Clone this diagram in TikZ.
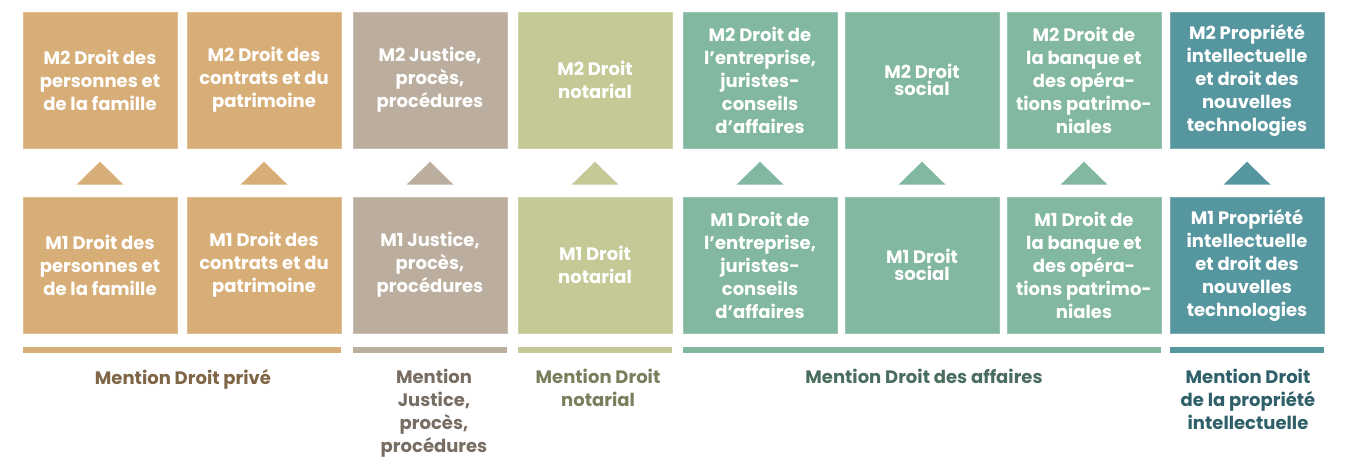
\documentclass[tikz,border=0pt]{standalone}
\usepackage{fontspec}
\setmainfont{Poppins}
\usetikzlibrary{positioning}
\definecolor{tanc}{HTML}{D8AE78}
\definecolor{greyc}{HTML}{BBAE9E}
\definecolor{olivec}{HTML}{C4C996}
\definecolor{greenc}{HTML}{82B7A0}
\definecolor{tealc}{HTML}{56969F}
\definecolor{tantxt}{HTML}{7F6647}
\definecolor{greytxt}{HTML}{776D63}
\definecolor{olivetxt}{HTML}{7B7E5D}
\definecolor{greentxt}{HTML}{4A6D5E}
\definecolor{tealtxt}{HTML}{2F5F68}
\tikzset{
  course/.style={fill=#1, draw=#1!80!white, line width=0.6pt, text=white, align=center,
    minimum width=154pt, minimum height=136pt, inner sep=0pt,
    font=\bfseries\fontsize{18}{23}\selectfont},
  tight/.style={font=\bfseries\fontsize{18}{17.5}\selectfont},
  mention/.style={anchor=north, align=center, inner sep=0pt,
    font=\bfseries\fontsize{18}{23}\selectfont},
}
\begin{document}
\begin{tikzpicture}[x=1pt,y=-1pt]
  \useasboundingbox (0,0) rectangle (1348,457);
  % M2 row
  \node[course=tanc] (topa) at (100,80) {M2 Droit des\\personnes et\\de la famille};
  \node[course=tanc] (topb) at (264,80) {M2 Droit des\\contrats et du\\patrimoine};
  \node[course=greyc] (topc) at (430,80) {M2 Justice,\\procès,\\procédures};
  \node[course=olivec] (topd) at (595,80) {M2 Droit\\notarial};
  \node[course=greenc] (tope) at (760,80) {M2 Droit de\\l’entreprise,\\juristes-\\conseils\\d’affaires};
  \node[course=greenc,tight] (topf) at (922,80) {M2 Droit\\social};
  \node[course=greenc] (topg) at (1084,80) {M2 Droit de\\la banque et\\des opéra-\\tions patrimo-\\niales};
  \node[course=tealc] (toph) at (1247,80) {M2 Propriété\\intellectuelle\\et droit des\\nouvelles\\technologies};
  % M1 row
  \node[course=tanc] (bota) at (100,265) {M1 Droit des\\personnes et\\de la famille};
  \node[course=tanc] (botb) at (264,265) {M1 Droit des\\contrats et du\\patrimoine};
  \node[course=greyc] (botc) at (430,265) {M1 Justice,\\procès,\\procédures};
  \node[course=olivec] (botd) at (595,265) {M1 Droit\\notarial};
  \node[course=greenc] (bote) at (760,265) {M1 Droit de\\l’entreprise,\\juristes-\\conseils\\d’affaires};
  \node[course=greenc,tight] (botf) at (922,265) {M1 Droit\\social};
  \node[course=greenc] (botg) at (1084,265) {M1 Droit de\\la banque et\\des opéra-\\tions patrimo-\\niales};
  \node[course=tealc] (both) at (1247,265) {M1 Propriété\\intellectuelle\\et droit des\\nouvelles\\technologies};
  % triangles
  \foreach \n/\c in {a/tanc,b/tanc,c/greyc,d/olivec,e/greenc,f/greenc,g/greenc,h/tealc}
    \fill[\c] ([xshift=-23.5pt,yshift=12pt]bot\n.north) -- ([xshift=23.5pt,yshift=12pt]bot\n.north)
      -- ([yshift=35pt]bot\n.north) -- cycle;
  % bars
  \fill[tanc] ([yshift=-14pt]bota.south west) rectangle ([yshift=-20pt]botb.south east);
  \fill[greyc] ([yshift=-14pt]botc.south west) rectangle ([yshift=-20pt]botc.south east);
  \fill[olivec] ([yshift=-14pt]botd.south west) rectangle ([yshift=-20pt]botd.south east);
  \fill[greenc] ([yshift=-14pt]bote.south west) rectangle ([yshift=-20pt]botg.south east);
  \fill[tealc] ([yshift=-14pt]both.south west) rectangle ([yshift=-20pt]both.south east);
  % mentions
  \node[mention, text=tantxt] (menpriv) at (183,369) {Mention Droit privé};
  \node[mention, text=greytxt] (menjust) at (434,369) {Mention\\Justice,\\procès,\\procédures};
  \node[mention, text=olivetxt] (mennot) at (598,369) {Mention Droit\\notarial};
  \node[mention, text=greentxt] (menaff) at (924,369) {Mention Droit des affaires};
  \node[mention, text=tealtxt] (menprop) at (1248,369) {Mention Droit\\de la propriété\\intellectuelle};
\end{tikzpicture}
\end{document}
